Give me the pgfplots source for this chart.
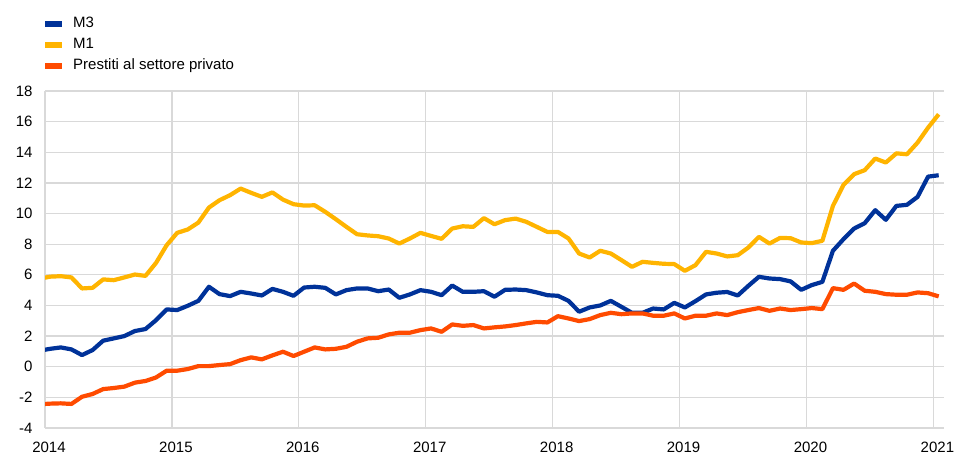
\documentclass[border=0pt]{standalone}
\usepackage{fontspec}
\setmainfont{Liberation Sans}
\usepackage{pgfplots}
\usepackage{pgfplotstable}
\pgfplotsset{compat=1.18}
\definecolor{ecbblue}{HTML}{003299}
\definecolor{ecbyellow}{HTML}{FFB400}
\definecolor{ecborange}{HTML}{FF4B00}
\definecolor{gridgray}{HTML}{D9D9D9}
\pgfplotstableread{
x m3 m1 ln
-0.5 1.05 5.75 -2.45
0.5 1.17 5.88 -2.41
1.5 1.26 5.91 -2.39
2.5 1.13 5.83 -2.43
3.5 0.76 5.11 -1.96
4.5 1.09 5.15 -1.78
5.5 1.70 5.70 -1.46
6.5 1.85 5.65 -1.39
7.5 2.00 5.83 -1.30
8.5 2.33 6.02 -1.04
9.5 2.46 5.93 -0.93
10.5 3.04 6.78 -0.70
11.5 3.74 7.93 -0.26
12.5 3.70 8.74 -0.26
13.5 3.98 8.96 -0.15
14.5 4.30 9.41 0.04
15.5 5.22 10.39 0.04
16.5 4.74 10.87 0.11
17.5 4.61 11.20 0.17
18.5 4.89 11.63 0.43
19.5 4.78 11.35 0.61
20.5 4.65 11.09 0.48
21.5 5.08 11.38 0.74
22.5 4.89 10.91 0.98
23.5 4.63 10.61 0.70
24.5 5.17 10.52 0.98
25.5 5.22 10.54 1.26
26.5 5.15 10.11 1.13
27.5 4.72 9.63 1.17
28.5 5.00 9.13 1.30
29.5 5.11 8.65 1.63
30.5 5.11 8.57 1.85
31.5 4.93 8.52 1.89
32.5 5.04 8.37 2.11
33.5 4.50 8.04 2.22
34.5 4.72 8.37 2.22
35.5 5.00 8.74 2.39
36.5 4.89 8.54 2.50
37.5 4.67 8.35 2.28
38.5 5.30 9.02 2.76
39.5 4.89 9.17 2.67
40.5 4.89 9.13 2.72
41.5 4.93 9.70 2.50
42.5 4.57 9.30 2.57
43.5 5.02 9.57 2.63
44.5 5.04 9.67 2.72
45.5 5.00 9.46 2.83
46.5 4.85 9.13 2.93
47.5 4.67 8.80 2.89
48.5 4.63 8.80 3.30
49.5 4.30 8.37 3.15
50.5 3.59 7.39 2.98
51.5 3.87 7.13 3.11
52.5 4.00 7.57 3.37
53.5 4.30 7.39 3.52
54.5 3.91 6.96 3.43
55.5 3.52 6.52 3.48
56.5 3.52 6.85 3.48
57.5 3.80 6.78 3.33
58.5 3.74 6.72 3.33
59.5 4.17 6.70 3.48
60.5 3.87 6.26 3.15
61.5 4.28 6.63 3.33
62.5 4.72 7.50 3.33
63.5 4.83 7.39 3.48
64.5 4.88 7.20 3.37
65.5 4.65 7.28 3.56
66.5 5.28 7.78 3.70
67.5 5.87 8.48 3.83
68.5 5.76 8.04 3.65
69.5 5.72 8.41 3.80
70.5 5.57 8.39 3.70
71.5 5.02 8.11 3.76
72.5 5.33 8.07 3.83
73.5 5.54 8.22 3.76
74.5 7.57 10.50 5.13
75.5 8.33 11.87 5.02
76.5 9.02 12.57 5.43
77.5 9.37 12.83 4.96
78.5 10.22 13.59 4.89
79.5 9.59 13.33 4.74
80.5 10.50 13.93 4.70
81.5 10.57 13.87 4.70
82.5 11.09 14.63 4.85
83.5 12.41 15.61 4.80
84.5 12.50 16.48 4.59
}\datatable
\begin{document}
\begin{tikzpicture}[x=1pt,y=1pt]
\useasboundingbox (0,0) rectangle (956,455);
\begin{axis}[
  at={(45pt,27pt)}, anchor=south west,
  width=899pt, height=337pt, scale only axis,
  xmin=0, xmax=85, ymin=-4, ymax=18,
  xtick={0,12,24,36,48,60,72,84},
  xticklabels={2014,2015,2016,2017,2018,2019,2020,2021},
  ytick={-4,-2,0,2,4,6,8,10,12,14,16,18},
  grid=major,
  major grid style={draw=gridgray, line width=1.3pt},
  axis line style={draw=none},
  tick style={draw=none},
  /pgf/number format/assume math mode=true,
  ticklabel style={font=\fontsize{15}{18}\selectfont},
  yticklabel style={anchor=east, xshift=-9pt},
  xticklabel style={anchor=north, yshift=-10pt, xshift=4pt},
  legend style={at={(0,1)}, anchor=south west, xshift=-3pt, yshift=18pt,
    draw=none, fill=none, inner sep=0pt,
    font=\fontsize{15}{18}\selectfont,
    nodes={inner sep=0pt, text height=11pt, text depth=3pt, anchor=west},
    row sep=7pt},
  legend cell align=left,
  legend image code/.code={\draw[#1, line width=6pt, line cap=butt] (0pt,0pt) -- (17pt,0pt);},
  every axis plot/.append style={line width=4.2pt, line join=round},
]
\addplot[ecbblue, no markers] table[x=x, y=m3] {\datatable};
\addlegendentry{\hspace{8pt}M3}
\addplot[ecbyellow, no markers] table[x=x, y=m1] {\datatable};
\addlegendentry{\hspace{8pt}M1}
\addplot[ecborange, no markers] table[x=x, y=ln] {\datatable};
\addlegendentry{\hspace{8pt}Prestiti al settore privato}
\end{axis}
\end{tikzpicture}
\end{document}
